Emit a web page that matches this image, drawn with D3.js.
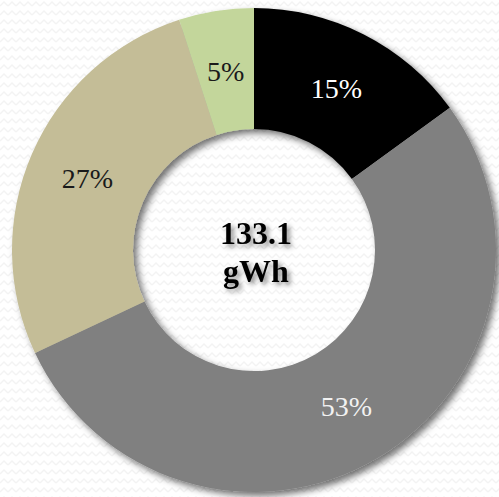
<!DOCTYPE html>
<html><head><meta charset="utf-8">
<script src="https://cdn.jsdelivr.net/npm/d3@7"></script>
<style>html,body{margin:0;padding:0;background:#fff;}svg{display:block;}
text{font-family:'Liberation Serif','Times New Roman','DejaVu Serif',serif;}</style>
</head><body>
<script>
const categories = ["A", "B", "C", "D"];
const values = [15, 53, 27, 5];
const labels = ["15%", "53%", "27%", "5%"];
const colors = ["#000000", "#808080", "#c4bd97", "#c3d69b"];
const labelColors = ["#ffffff", "#f2f2f2", "#1a1a1a", "#1a1a1a"];
const centerLines = ["133.1", "gWh"];

const W = 499, H = 497, cx = 254, cy = 250, rOuter = 242, rInner = 121;
const svg = d3.select("body").append("svg").attr("width", W).attr("height", H);
const defs = svg.append("defs");

const pat = defs.append("pattern").attr("id", "zz").attr("patternUnits", "userSpaceOnUse")
  .attr("width", 8).attr("height", 9);
pat.append("rect").attr("width", 8).attr("height", 9).attr("fill", "#ffffff");
pat.append("path").attr("d", "M0,6 L4,2 L8,6").attr("fill", "none")
  .attr("stroke", "#f3f3f3").attr("stroke-width", 1.4);

const f = defs.append("filter").attr("id", "sh").attr("x", "-10%").attr("y", "-10%").attr("width", "125%").attr("height", "125%");
f.append("feDropShadow").attr("dx", 4).attr("dy", 4).attr("stdDeviation", 3.5)
  .attr("flood-color", "#000").attr("flood-opacity", 0.55);
const ft = defs.append("filter").attr("id", "tsh").attr("x", "-20%").attr("y", "-30%").attr("width", "150%").attr("height", "170%");
ft.append("feDropShadow").attr("dx", 3).attr("dy", 3).attr("stdDeviation", 2.5)
  .attr("flood-color", "#000").attr("flood-opacity", 0.45);

svg.append("rect").attr("width", W).attr("height", H).attr("fill", "url(#zz)");

const pie = d3.pie().value(d => d).sort(null);
const arcs = pie(values);
const arc = d3.arc().innerRadius(rInner).outerRadius(rOuter);

const g = svg.append("g").attr("transform", `translate(${cx},${cy})`);
g.append("g").attr("filter", "url(#sh)")
  .selectAll("path").data(arcs).join("path")
  .attr("d", arc).attr("fill", (d, i) => colors[i]);

g.selectAll("text.lbl").data(arcs).join("text").attr("class", "lbl")
  .attr("transform", d => `translate(${arc.centroid(d)})`)
  .attr("text-anchor", "middle").attr("dy", "0.35em")
  .attr("font-size", 28)
  .attr("fill", (d, i) => labelColors[i])
  .text((d, i) => labels[i]);

const ct = g.append("g").attr("filter", "url(#tsh)");
ct.selectAll("text").data(centerLines).join("text")
  .attr("x", 2).attr("y", (d, i) => i === 0 ? -6 : 32)
  .attr("text-anchor", "middle")
  .attr("font-weight", "bold").attr("font-size", 32)
  .attr("fill", "#000").text(d => d);
</script>
</body></html>
